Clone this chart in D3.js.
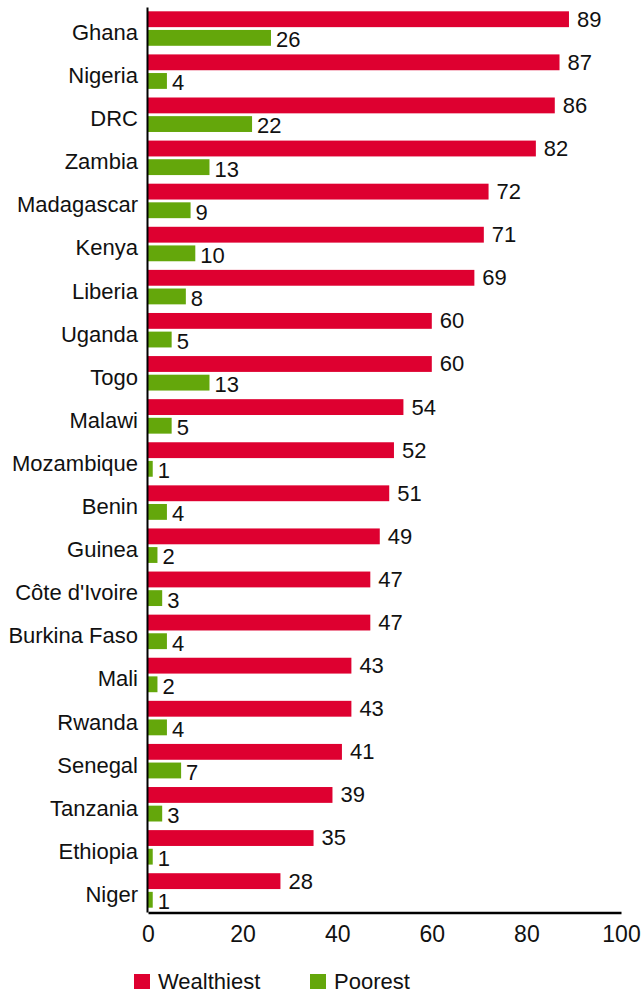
<!DOCTYPE html>
<html><head><meta charset="utf-8">
<script src="https://cdn.jsdelivr.net/npm/d3@7"></script>
<style>
body{margin:0;background:#fff;}
svg{display:block;}
text{font-family:"Liberation Sans",Arial,sans-serif;fill:#111;}
</style></head>
<body>
<svg id="chart" width="642" height="994"></svg>
<script>
const countries = ["Ghana","Nigeria","DRC","Zambia","Madagascar","Kenya","Liberia","Uganda","Togo","Malawi","Mozambique","Benin","Guinea","Côte d'Ivoire","Burkina Faso","Mali","Rwanda","Senegal","Tanzania","Ethiopia","Niger"];
const wealthiest = [89,87,86,82,72,71,69,60,60,54,52,51,49,47,47,43,43,41,39,35,28];
const poorest = [26,4,22,13,9,10,8,5,13,5,1,4,2,3,4,2,4,7,3,1,1];
const seriesNames = ["Wealthiest","Poorest"];
const seriesColors = ["#de0030","#64a70b"];
const xTicks = [0,20,40,60,80,100];

const svg = d3.select("#chart");
const x = d3.scaleLinear().domain([0,100]).range([148,621]);
const y = d3.scaleBand().domain(countries).range([7,912]).paddingInner(0.2).paddingOuter(0.1);
const inner = d3.scaleBand().domain(seriesNames).range([0,y.bandwidth()]).paddingInner(0.15);
const color = d3.scaleOrdinal().domain(seriesNames).range(seriesColors);

const rows = countries.map((c,i)=>({country:c, values:[{s:"Wealthiest",v:wealthiest[i]},{s:"Poorest",v:poorest[i]}]}));

const g = svg.selectAll("g.row").data(rows).join("g").attr("class","row")
  .attr("transform",d=>`translate(0,${y(d.country)})`);
g.selectAll("rect").data(d=>d.values).join("rect")
  .attr("x",x(0)).attr("y",d=>inner(d.s))
  .attr("width",d=>x(d.v)-x(0)).attr("height",inner.bandwidth())
  .attr("fill",d=>color(d.s));
g.selectAll("text.val").data(d=>d.values).join("text").attr("class","val")
  .attr("x",d=>x(d.v)+(d.s==="Wealthiest"?8:5))
  .attr("y",d=>inner(d.s)+inner.bandwidth()/2+(d.s==="Wealthiest"?-0.5:1.5))
  .attr("dy","0.36em").style("font-size","22px").text(d=>d.v);

// axes
const yAxis = svg.append("g").attr("transform",`translate(147,0)`)
  .call(d3.axisLeft(y).tickSize(0).tickPadding(9));
yAxis.select(".domain").attr("stroke","#000").attr("stroke-width",2);
yAxis.selectAll("text").style("font-size","22px").attr("font-family","Liberation Sans, Arial, sans-serif").attr("fill","#111")
  .attr("dy","0.52em");

const xAxis = svg.append("g").attr("transform",`translate(0,912.5)`)
  .call(d3.axisBottom(x).tickValues(xTicks).tickSize(0).tickPadding(13).tickFormat(d3.format("d")));
xAxis.select(".domain").attr("stroke","#000").attr("stroke-width",2.5);
xAxis.selectAll("text").style("font-size","23px").attr("font-family","Liberation Sans, Arial, sans-serif").attr("fill","#111");

// legend
const legend = svg.append("g").attr("transform","translate(134,974)");
const li = legend.selectAll("g").data(seriesNames).join("g")
  .attr("transform",(d,i)=>`translate(${i*176},0)`);
li.append("rect").attr("width",16).attr("height",15).attr("fill",d=>color(d));
li.append("text").attr("x",24).attr("y",15).style("font-size","22px").text(d=>d);
</script>
</body></html>
